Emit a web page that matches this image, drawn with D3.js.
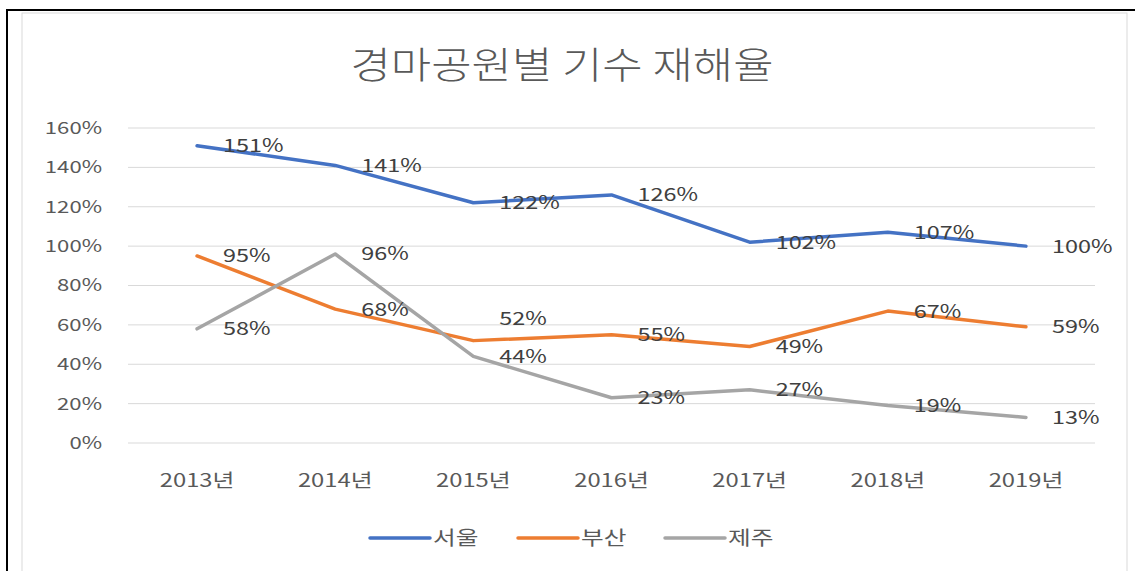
<!DOCTYPE html>
<html>
<head>
<meta charset="utf-8">
<script src="https://cdn.jsdelivr.net/npm/d3@7"></script>
<style>
  body { margin:0; background:#fff; }
  text { font-family: "Malgun Gothic", "Noto Sans CJK KR", "Noto Sans", sans-serif; }
</style>
</head>
<body>
<svg id="chart" width="1135" height="571"></svg>
<script>
var years = ['2013년','2014년','2015년','2016년','2017년','2018년','2019년'];
var seoul = [151,141,122,126,102,107,100];
var busan = [95,68,52,55,49,67,59];
var jeju = [58,96,44,23,27,19,13];
var seriesNames = ['서울','부산','제주'];
var seriesColors = ['#4472C4','#ED7D31','#A5A5A5'];
var yTicks = [0,20,40,60,80,100,120,140,160];
var chartTitle = '경마공원별 기수 재해율';

var margin = {top:128, right:40, bottom:128, left:128},
    width = 1095 - margin.left,
    height = 443 - margin.top;

var svg = d3.select('#chart');

// text in the source picture is stretched sideways a bit
function stretch(sel, f){
    sel.each(function(){
        var w = this.getComputedTextLength();
        d3.select(this).attr('textLength', w*f).attr('lengthAdjust','spacingAndGlyphs');
    });
}

// frame
svg.append('rect')
    .attr('x',22).attr('y',13)
    .attr('width',1105).attr('height',570)
    .attr('fill','#fff')
    .attr('stroke','#d9d9d9');
svg.append('path')
    .attr('d','M7,571 V10 H1135')
    .attr('fill','none')
    .attr('stroke','#000')
    .attr('stroke-width',2);

svg.append('text')
    .attr('x',562).attr('y',79)
    .attr('text-anchor','middle')
    .attr('font-size',37)
    .attr('font-weight',300)
    .attr('fill','#595959')
    .attr('textLength',423)
    .attr('lengthAdjust','spacingAndGlyphs')
    .text(chartTitle);

var g = svg.append('g').attr('transform','translate('+margin.left+','+margin.top+')');

var xScale = d3.scaleBand().domain(years).range([0,width]);
var yScale = d3.scaleLinear().domain([0,160]).range([height,0]);

// gridlines
g.selectAll('.grid')
    .data(yTicks)
    .join('line')
    .attr('class','grid')
    .attr('x1',0).attr('x2',width)
    .attr('y1',d => yScale(d)).attr('y2',d => yScale(d))
    .attr('stroke','#d9d9d9')
    .attr('stroke-width',1);

var yAxis = d3.axisLeft(yScale).tickValues(yTicks).tickFormat(d => d+'%').tickSize(0).tickPadding(26);
g.append('g').call(yAxis)
    .call(ax => ax.select('.domain').remove())
    .selectAll('text')
    .attr('font-size',17)
    .attr('fill','#595959')
    .call(stretch,1.3);

var xAxis = d3.axisBottom(xScale).tickSize(0).tickPadding(31);
g.append('g').attr('transform','translate(0,'+height+')').call(xAxis)
    .call(ax => ax.select('.domain').remove())
    .selectAll('text')
    .attr('font-size',18)
    .attr('fill','#595959')
    .call(stretch,1.32);

var allSeries = [seoul,busan,jeju];
var line = d3.line()
    .x((d,i) => xScale(years[i]) + xScale.bandwidth()/2)
    .y(d => yScale(d));

g.selectAll('.series')
    .data(allSeries)
    .join('path')
    .attr('class','series')
    .attr('d',d => line(d))
    .attr('fill','none')
    .attr('stroke',(d,i) => seriesColors[i])
    .attr('stroke-width',3.5)
    .attr('stroke-linecap','round')
    .attr('stroke-linejoin','round');

allSeries.forEach(function(s,si){
    g.selectAll('.lbl'+si)
        .data(s)
        .join('text')
        .attr('class','lbl'+si)
        .attr('x',(d,i) => xScale(years[i]) + xScale.bandwidth()/2 + 26)
        // 부산 2015 label sits above its point in the original
        .attr('y',(d,i) => yScale(d) - (si==1 && i==2 ? 22 : 0))
        .attr('dy','0.36em')
        .attr('font-size',18)
        .attr('fill','#404040')
        .text(d => d+'%')
        .call(stretch,1.3);
});

// legend
var legendX = [370,518,665];
var legend = svg.selectAll('.legend')
    .data(seriesNames)
    .join('g')
    .attr('class','legend')
    .attr('transform',(d,i) => 'translate('+legendX[i]+',538)');
legend.append('line')
    .attr('x1',0).attr('x2',60)
    .attr('stroke',(d,i) => seriesColors[i])
    .attr('stroke-width',3.5)
    .attr('stroke-linecap','round');
legend.append('text')
    .attr('x',63).attr('dy','0.36em')
    .attr('font-size',19)
    .attr('fill','#595959')
    .text(d => d)
    .call(stretch,1.3);
</script>
</body>
</html>
